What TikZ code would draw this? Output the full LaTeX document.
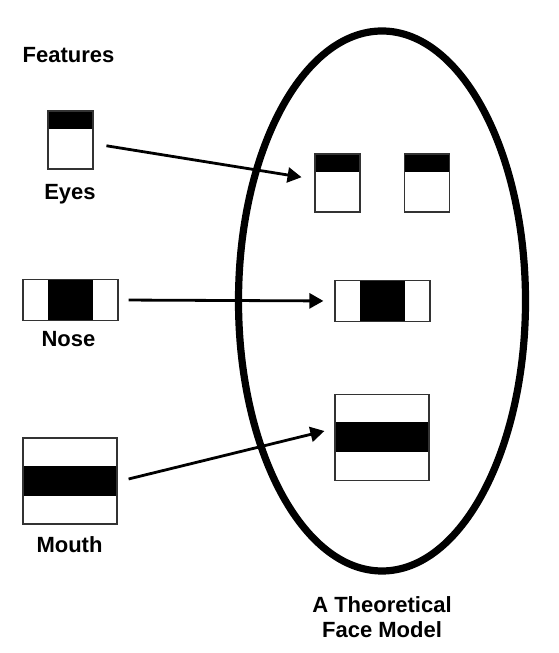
\documentclass[tikz,border=0pt]{standalone}
\usepackage{fontspec}
\setmainfont{Liberation Sans}
\usetikzlibrary{arrows.meta,shapes.geometric}

\tikzset{
  lbl/.style={font=\fontsize{11}{13}\selectfont\bfseries, anchor=base, inner sep=0pt, align=center},
  part/.style={draw=black!80, line width=0.6pt, inner sep=0pt},
  eyebox/.style={part, minimum width=22.5pt, minimum height=29pt,
    path picture={\fill (path picture bounding box.north west) rectangle ([yshift=-9pt]path picture bounding box.north east);}},
  nosebox/.style={part, minimum width=47.5pt, minimum height=20.5pt,
    path picture={\fill ([xshift=-11.25pt]path picture bounding box.north) rectangle ([xshift=11.25pt]path picture bounding box.south);}},
  mouthbox/.style={part, minimum width=47pt, minimum height=43pt,
    path picture={\fill ([yshift=7.5pt]path picture bounding box.west) rectangle ([yshift=-7.5pt]path picture bounding box.east);}},
  feat/.style={-{Triangle[length=7pt,width=7.5pt]}, line width=1.4pt}
}

\begin{document}
\begin{tikzpicture}[x=0.5pt,y=0.5pt]
    \useasboundingbox (0,0) rectangle (558,653);

    % the face
    \node[draw, ellipse, line width=3.6pt, inner sep=0pt, minimum width=143.5pt, minimum height=270pt] (face) at (382,352) {};
    \node[lbl] (facelbl) at (382,15) {A Theoretical\\Face Model};

    % features on the left
    \node[lbl] (features) at (68.5,590) {Features};
    \node[eyebox] (eyeL) at (70.5,513) {};
    \node[lbl] (eyeslbl) at (70,453) {Eyes};
    \node[nosebox] (noseL) at (70.5,353) {};
    \node[lbl] (noselbl) at (68.5,306) {Nose};
    \node[mouthbox] (mouthL) at (70,172) {};
    \node[lbl] (mouthlbl) at (69.5,100) {Mouth};

    % features inside the face
    \node[eyebox] (eyeF1) at (337.5,470) {};
    \node[eyebox] (eyeF2) at (427,470) {};
    \node[nosebox] (noseF) at (382.5,352) {};
    \node[mouthbox] (mouthF) at (382,215.5) {};

    \draw[feat, shorten <=6.5pt, shorten >=6.5pt] (eyeL) -- (eyeF1);
    \draw[feat, shorten <=5pt, shorten >=5.5pt] (noseL.east) -- (noseF.west);
    \draw[feat] ([xshift=5.5pt,yshift=1pt]mouthL.east) -- ([xshift=-5pt,yshift=3.25pt]mouthF.west);
\end{tikzpicture}
\end{document}
